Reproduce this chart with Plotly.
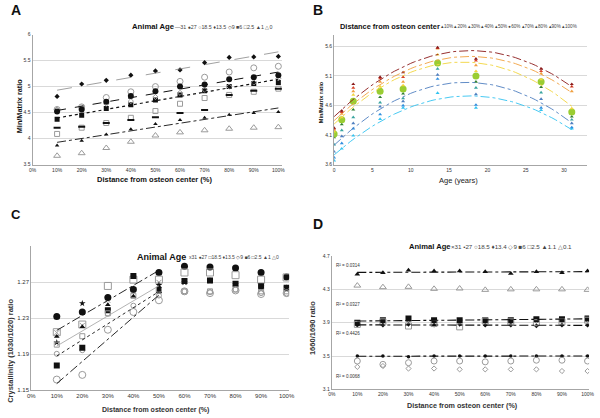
import plotly.graph_objects as go
import numpy as np

W, H = 600, 418
FONT = "Liberation Sans, Arial, sans-serif"

# ---------------- data ----------------
dist_pct = [10, 20, 30, 40, 50, 60, 70, 80, 90, 100]
dist_labels = ["10%", "20%", "30%", "40%", "50%", "60%", "70%", "80%", "90%", "100%"]
ages = [0, 1, 2.5, 6, 9, 13.5, 18.5, 27, 31]
age_names_ab = ["0", "1", "2.5", "6", "9", "13.5", "18.5", "27", "31"]

# Min/Matrix ratio, rows = animal age, columns = distance from osteon center
mm_age0 = [3.67, 3.72, 3.82, 3.94, 4.06, 4.12, 4.16, 4.19, 4.21, 4.22]
mm_age1 = [3.87, 3.96, 4.08, 4.18, 4.28, 4.36, 4.40, 4.46, 4.49, 4.51]
mm_age2_5 = [4.09, 4.21, 4.30, 4.40, 4.53, 4.67, 4.78, 4.84, 4.90, 4.96]
mm_age6 = [4.37, 4.45, 4.58, 4.65, 4.74, 4.84, 4.92, 5.00, 5.06, 5.08]
mm_age9 = [4.56, 4.60, 4.67, 4.72, 4.80, 4.88, 4.94, 5.00, 5.08, 5.16]
mm_age13_5 = [4.81, 5.05, 5.12, 5.22, 5.30, 5.32, 5.46, 5.56, 5.57, 5.58]
mm_age18_5 = [4.56, 4.61, 4.79, 4.90, 5.00, 5.10, 5.18, 5.28, 5.36, 5.39]
mm_age27 = [4.52, 4.56, 4.71, 4.82, 4.91, 5.00, 5.04, 5.14, 5.18, 5.22]
mm_age31 = [4.21, 4.23, 4.30, 4.36, 4.41, 4.49, 4.55, 4.84, 4.92, 4.96]

# Crystallinity (1030/1020), panel C
cr_age31 = [1.214, 1.222, 1.250, 1.262, 1.270, 1.270, 1.272, 1.268, 1.262, 1.262]
cr_age27 = [1.232, 1.237, 1.253, 1.262, 1.281, 1.288, 1.287, 1.286, 1.281, 1.276]
cr_age18_5 = [1.2145, 1.223, 1.266, 1.273, 1.273, 1.281, 1.281, 1.278, 1.273, 1.2755]
cr_age13_5 = [1.203, 1.2465, 1.253, 1.263, 1.267, 1.270, 1.272, 1.268, 1.265, 1.264]
cr_age9 = [1.1904, 1.1944, 1.235, 1.244, 1.2553, 1.260, 1.259, 1.262, 1.258, 1.2575]
cr_age6 = [1.1775, 1.197, 1.239, 1.277, 1.2612, 1.2715, 1.2722, 1.2685, 1.2656, 1.264]
cr_age2_5 = [1.2006, 1.210, 1.2355, 1.255, 1.262, 1.260, 1.260, 1.262, 1.260, 1.260]
cr_age1 = [1.2098, 1.2205, 1.245, 1.2546, 1.265, 1.270, 1.271, 1.268, 1.264, 1.263]
cr_age0 = [1.1617, 1.1669, 1.2172, 1.237, 1.250, 1.260, 1.258, 1.261, 1.257, 1.258]

# 1660/1690 ratio, panel D
am_age31 = [3.90, 3.89, 3.90, 3.89, 3.90, 3.89, 3.90, 3.89, 3.90, 3.90]
am_age27 = [3.50, 3.50, 3.49, 3.50, 3.50, 3.50, 3.50, 3.50, 3.50, 3.50]
am_age18_5 = [3.44, 3.40, 3.42, 3.44, 3.44, 3.43, 3.44, 3.45, 3.45, 3.44]
am_age13_4 = [3.87, 3.87, 3.88, 3.87, 3.88, 3.87, 3.87, 3.86, 3.87, 3.87]
am_age9 = [3.37, 3.38, 3.35, 3.35, 3.34, 3.34, 3.34, 3.34, 3.32, 3.32]
am_age6 = [3.90, 3.93, 3.95, 3.93, 3.93, 3.93, 3.93, 3.94, 3.94, 3.95]
am_age2_5 = [3.88, 3.91, 3.86, 3.89, 3.85, 3.92, 3.91, 3.90, 3.91, 3.93]
am_age1_1 = [4.48, 4.50, 4.53, 4.52, 4.52, 4.51, 4.49, 4.51, 4.50, 4.52]
am_age0_1 = [4.345, 4.326, 4.33, 4.306, 4.31, 4.294, 4.30, 4.30, 4.30, 4.294]
r2_labels = ["R² = 0.0314", "R² = 0.0327", "R² = 0.4426", "R² = 0.0068"]
r2_y = [4.59, 4.12, 3.77, 3.26]

mm_rows = [mm_age0, mm_age1, mm_age2_5, mm_age6, mm_age9, mm_age13_5, mm_age18_5, mm_age27, mm_age31]

# ---------------- layout helpers ----------------
def dom_x(a, b):
    return [a / W, b / W]

def dom_y(top, bottom):
    return [1 - bottom / H, 1 - top / H]

fig = go.Figure()

GRID = "#d9d9d9"
AX = "#a6a6a6"

def axis_common(size):
    return dict(showline=True, linecolor=AX, linewidth=1, ticks="", tickfont=dict(size=size, color="#333", family=FONT),
                zeroline=False)

lay = dict(
    width=W, height=H, margin=dict(l=0, r=0, t=0, b=0), paper_bgcolor="white", plot_bgcolor="white",
    showlegend=False, font=dict(family=FONT),
    xaxis=dict(domain=dom_x(29, 283), range=[0, 101.6], anchor="y", tickvals=[0] + dist_pct,
               ticktext=["0%"] + dist_labels, showgrid=False, **axis_common(5)),
    yaxis=dict(domain=dom_y(32, 164), range=[3.5, 6], anchor="x", tickvals=[3.5, 4, 4.5, 5, 5.5, 6],
               showgrid=True, gridcolor=GRID, **axis_common(5)),
    xaxis2=dict(domain=dom_x(335.7, 593), range=[0, 33], anchor="y2", tickvals=[0, 5, 10, 15, 20, 25, 30],
                showgrid=False, **axis_common(5)),
    yaxis2=dict(domain=dom_y(32, 164), range=[3.6, 5.8], anchor="x2", tickvals=[3.6, 4.1, 4.6, 5.1, 5.6],
                showgrid=True, gridcolor=GRID, **axis_common(5)),
    xaxis3=dict(domain=dom_x(27.7, 290), range=[0, 101], anchor="y3", tickvals=[0] + dist_pct,
                ticktext=["0%"] + dist_labels, showgrid=False, **axis_common(6)),
    yaxis3=dict(domain=dom_y(247, 392.7), range=[1.15, 1.31], anchor="x3", tickvals=[1.15, 1.19, 1.23, 1.27],
                tickformat=".2f", showgrid=True, gridcolor=GRID, **axis_common(6)),
    xaxis4=dict(domain=dom_x(333.3, 595), range=[0, 100.6], anchor="y4", tickvals=[0] + dist_pct,
                ticktext=["0%"] + dist_labels, showgrid=False, **axis_common(5)),
    yaxis4=dict(domain=dom_y(256.7, 392), range=[3.1, 4.7], anchor="x4", tickvals=[3.1, 3.5, 3.9, 4.3, 4.7],
                tickformat=".1f", showgrid=True, gridcolor=GRID, **axis_common(5)),
)
fig.update_layout(**lay)

BLK = "#111111"
GRY = "#9a9a9a"

# ---------------- panel A ----------------
a_styles = {
    "31": dict(symbol="line-ew", size=5, color=BLK, line=dict(width=2, color=BLK)),
    "27": dict(symbol="circle", size=6, color=BLK),
    "18.5": dict(symbol="circle-open", size=6, color=GRY, line=dict(width=1, color=GRY)),
    "13.5": dict(symbol="diamond", size=4, color=BLK),
    "9": dict(symbol="diamond-open", size=4, color=GRY, line=dict(width=1, color=GRY)),
    "6": dict(symbol="square", size=5, color=BLK),
    "2.5": dict(symbol="square-open", size=5, color=GRY, line=dict(width=1, color=GRY)),
    "1": dict(symbol="triangle-up", size=4, color=BLK),
    "0": dict(symbol="triangle-up-open", size=6, color=GRY, line=dict(width=1, color=GRY)),
}
for name, row in zip(age_names_ab, mm_rows):
    fig.add_trace(go.Scatter(x=dist_pct, y=row, mode="markers", marker=a_styles[name], xaxis="x", yaxis="y",
                             name=name))

def add_fit(x, y, xa, ya, dash, color, width=1, deg=1, xs=None):
    c = np.polyfit(x, y, deg)
    if xs is None:
        xs = np.array([x[0], x[-1]], dtype=float)
    fig.add_trace(go.Scatter(x=xs, y=np.polyval(c, xs), mode="lines", xaxis=xa, yaxis=ya,
                             line=dict(dash=dash, color=color, width=width), hoverinfo="skip"))

add_fit(dist_pct, mm_age13_5, "x", "y", "longdash", "#888", 0.8)
add_fit(dist_pct, mm_age27, "x", "y", "dash", BLK, 1)
add_fit(dist_pct, mm_age6, "x", "y", "dot", BLK, 1.2)
add_fit(dist_pct, mm_age1, "x", "y", "dashdot", BLK, 0.9)

# ---------------- panel B ----------------
b_colors = ["#33c3f0", "#2f8fe0", "#4f7fc0", "#3aa5a0", "#2e7d32", "#9acd32", "#f2d53c", "#f0a040", "#d9442a", "#8b1a1a"]
for j, pct in enumerate(dist_labels):
    col = [r[j] for r in mm_rows]
    big = (j == 5)
    fig.add_trace(go.Scatter(x=ages, y=col, mode="markers", xaxis="x2", yaxis="y2",
                             marker=dict(symbol="circle" if big else "triangle-up", size=7 if big else 3.5,
                                         color=b_colors[j]), name=pct))
xs_curve = np.linspace(0, 31, 60)
for j in [0, 2, 6, 7, 9]:
    col = [r[j] for r in mm_rows]
    add_fit(ages, col, "x2", "y2", "dashdot", b_colors[j], 0.9, deg=2, xs=xs_curve)

# ---------------- panel C ----------------
c_series = [
    ("31", cr_age31, dict(symbol="x-thin-open", size=5, color=GRY, line=dict(width=1, color=GRY))),
    ("27", cr_age27, dict(symbol="circle", size=7, color=BLK)),
    ("18.5", cr_age18_5, dict(symbol="square-open", size=7, color=GRY, line=dict(width=1, color=GRY))),
    ("13.5", cr_age13_5, dict(symbol="star", size=5, color=BLK)),
    ("9", cr_age9, dict(symbol="circle-open", size=5, color=GRY, line=dict(width=1, color=GRY))),
    ("6", cr_age6, dict(symbol="square", size=6, color=BLK)),
    ("2.5", cr_age2_5, dict(symbol="square-open", size=5, color=GRY, line=dict(width=1, color=GRY))),
    ("1", cr_age1, dict(symbol="triangle-up", size=5, color=BLK)),
    ("0", cr_age0, dict(symbol="circle-open", size=7, color=GRY, line=dict(width=1, color=GRY))),
]
for name, vals, mk in c_series:
    fig.add_trace(go.Scatter(x=dist_pct, y=vals, mode="markers", marker=mk, xaxis="x3", yaxis="y3", name=name))
add_fit(dist_pct[:5], cr_age18_5[:5], "x3", "y3", "dashdot", BLK, 0.9)
add_fit(dist_pct[:5], cr_age2_5[:5], "x3", "y3", "solid", "#aaa", 0.9)
add_fit(dist_pct[:5], cr_age9[:5], "x3", "y3", "dot", BLK, 0.9)
add_fit(dist_pct[:5], cr_age0[:5], "x3", "y3", "dashdot", BLK, 0.9)

# ---------------- panel D ----------------
d_series = [
    ("31", am_age31, dict(symbol="x-thin-open", size=4, color=GRY, line=dict(width=1, color=GRY))),
    ("27", am_age27, dict(symbol="circle", size=3.5, color=BLK)),
    ("18.5", am_age18_5, dict(symbol="circle-open", size=6, color=GRY, line=dict(width=1, color=GRY))),
    ("13.4", am_age13_4, dict(symbol="diamond", size=3.5, color=BLK)),
    ("9", am_age9, dict(symbol="diamond-open", size=4, color=GRY, line=dict(width=1, color=GRY))),
    ("6", am_age6, dict(symbol="square", size=6, color=BLK)),
    ("2.5", am_age2_5, dict(symbol="square-open", size=6, color=GRY, line=dict(width=1, color=GRY))),
    ("1.1", am_age1_1, dict(symbol="triangle-up", size=5, color=BLK)),
    ("0.1", am_age0_1, dict(symbol="triangle-up-open", size=6, color=GRY, line=dict(width=1, color=GRY))),
]
for name, vals, mk in d_series:
    fig.add_trace(go.Scatter(x=dist_pct, y=vals, mode="markers", marker=mk, xaxis="x4", yaxis="y4", name=name))
for vals in [am_age1_1, am_age6, am_age13_4, am_age27]:
    add_fit(dist_pct, vals, "x4", "y4", "dashdot", BLK, 1.1)

# ---------------- annotations ----------------
ann = []

def txt(x, y, s, size, bold=False, color="#111", xanchor="center", angle=0):
    ann.append(dict(x=x / W, y=1 - y / H, xref="paper", yref="paper",
                    text=f"<b>{s}</b>" if bold else s, showarrow=False,
                    font=dict(size=size, color=color, family=FONT), xanchor=xanchor, yanchor="middle",
                    textangle=angle))

# panel letters
txt(12, 7, "A", 14, True)
txt(319, 7, "B", 14, True)
txt(12, 215, "C", 13, True)
txt(319, 224, "D", 14, True)

# axis titles
txt(154, 179, "Distance from osteon center (%)", 7.5, True)
txt(16, 105, "Min/Matrix ratio", 7.3, True, angle=-90)
txt(462, 180, "Age (years)", 7.5, False, color="#222")
txt(322, 101, "Min/Matrix ratio", 5.6, True, angle=-90)
txt(154, 413, "Distance from osteon center (%)", 7.0, True, color="#333")
txt(7, 353, "Crystallinity (1030/1020) ratio", 7.5, True, color="#333", angle=-90)
txt(466, 408, "Distance from osteon center (%)", 7.2, True, color="#333")
txt(313, 330, "1660/1690 ratio", 7.5, True, color="#333", angle=-90)

# legends
txt(128, 24, "Animal Age", 7.7, True, xanchor="left")
txt(172, 24, "—31 ●27 ○18.5 ♦13.5 ◇9 ■6 □2.5 ▲1 △0", 5.3, False, color="#444", xanchor="left")
txt(340, 24, "Distance from osteon center", 7.4, True, xanchor="left")
txt(442, 24, "▴10% ▴20% ▴30% ▴40% ▴50% ●60% ▴70% ▴80% ▴90% ▴100%", 4.6, False, color="#444", xanchor="left")
txt(133, 258, "Animal Age", 9, True, xanchor="left")
txt(186, 258, "x31 ●27 □18.5 ♦13.5 ◇9 ■6 □2.5 ▲1 △0", 5, False, color="#444", xanchor="left")
txt(410, 247, "Animal Age", 7.6, True, xanchor="left")
txt(453, 247, "×31 •27 ○18.5 ♦13.4 ◇9 ■6 □2.5 ▲1.1 △0.1", 6.2, False, color="#444", xanchor="left")

for s, yv in zip(r2_labels, r2_y):
    ann.append(dict(x=1, y=yv, xref="x4", yref="y4", text=s, showarrow=False, xanchor="left",
                    font=dict(size=4.5, color="#333", family=FONT)))

fig.update_layout(annotations=ann)
fig.write_html("out.html", config={"displayModeBar": False},
               post_script="document.body.style.margin='0';document.body.style.padding='0';")
